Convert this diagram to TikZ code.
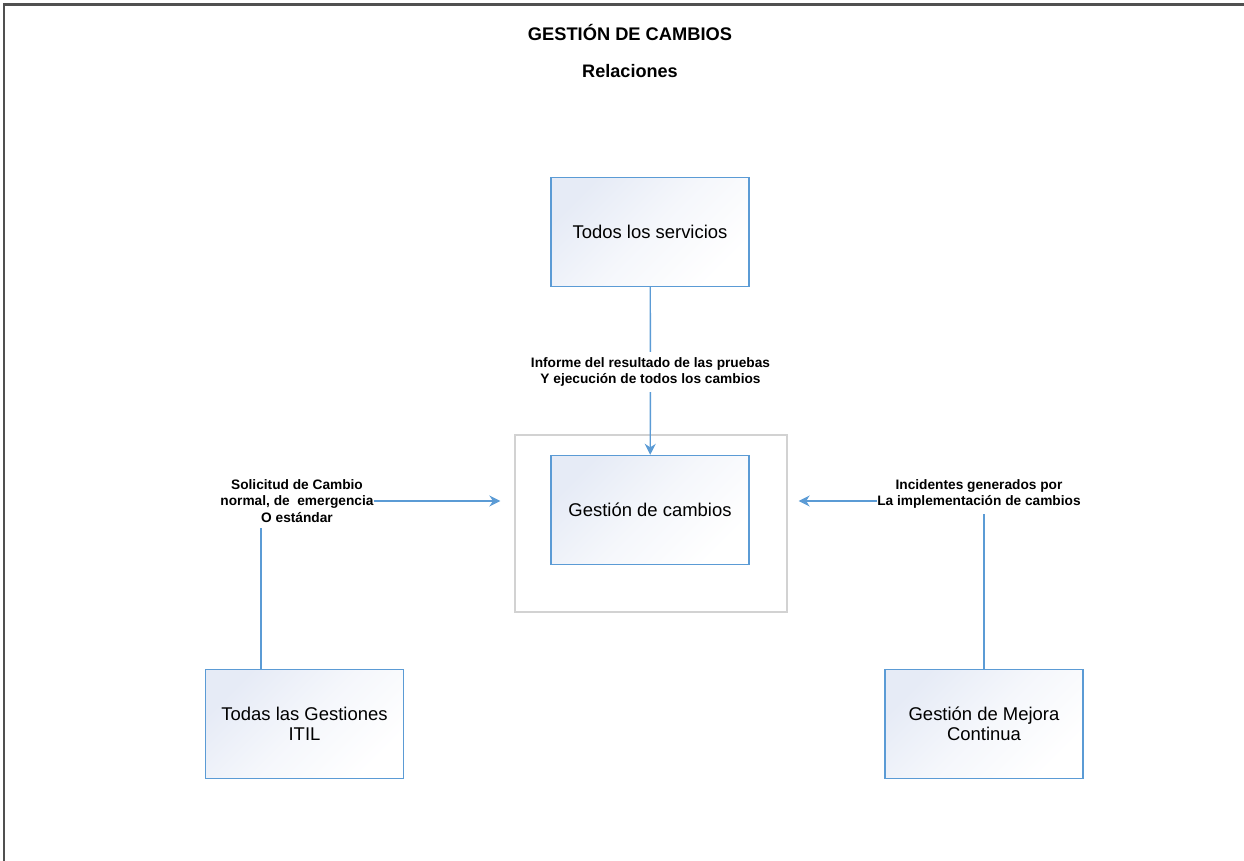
\documentclass[tikz,border=0pt]{standalone}
\usepackage{fontspec}
\setmainfont{Liberation Sans}
\usetikzlibrary{arrows.meta}
\definecolor{linkblue}{HTML}{5B9BD5}
\definecolor{boxtint}{HTML}{E6EBF6}
\definecolor{framegray}{HTML}{505050}
\tikzset{
  procbox/.style={draw=linkblue, line width=0.8pt, top color=boxtint, bottom color=white,
    middle color=boxtint!40, shading angle=45, minimum width=3.96cm, minimum height=2.18cm,
    align=center, font=\fontsize{10.5}{11.2}\selectfont},
  relnote/.style={align=center, inner xsep=0pt, inner ysep=3pt,
    font=\fontsize{7.8}{9.2}\selectfont\bfseries},
  flow/.style={draw=linkblue, line width=0.8pt},
  flowtip/.style={flow, -{Stealth[length=2.2mm, width=2.2mm]}},
}

\begin{document}
\begin{tikzpicture}[x=0.02cm, y=-0.02cm]
    \useasboundingbox (0,0) rectangle (1244,861);
    % marco de la hoja
    \draw [framegray, line width=1.2pt] (4,861) -- (4,4.5) -- (1244,4.5);
    \node (titulo) at (630,32) [font=\fontsize{10.4}{12}\selectfont\bfseries] {GESTIÓN DE CAMBIOS};
    \node (subtitulo) at (630,71) [font=\fontsize{10.3}{12}\selectfont\bfseries] {Relaciones};
    % recuadro del proceso
    \node (marco) at (651,523.5) [draw=gray!35, line width=0.8pt, minimum width=5.44cm, minimum height=3.54cm] {};
    \node [procbox] (servicios) at (650,232) {Todos los servicios};
    \node [procbox] (cambios) at (650,510) {Gestión de cambios};
    \node [procbox] (gestiones) at (304.5,724) {Todas las Gestiones\\ITIL};
    \node [procbox] (mejora) at (984,724) {Gestión de Mejora\\Continua};
    % relaciones
    \node [relnote] (pruebas) at (650.5,372) {Informe del resultado de las pruebas\\Y ejecución de todos los cambios};
    \node [relnote] (solicitud) at (297,501) {Solicitud de Cambio\\normal, de\ \ emergencia\\O estándar};
    \node [relnote] (incidentes) at (979,494) {Incidentes generados por\\La implementación de cambios};
    \draw [flow] (servicios) -- (pruebas);
    \draw [flowtip] (pruebas) -- (cambios);
    \draw [flow] ([xshift=-0.87cm]gestiones.north) -- ([xshift=-0.87cm]gestiones.north |- solicitud.south);
    \draw [flowtip, shorten >=0.28cm] (solicitud.east) -- (solicitud.east -| marco.west);
    \draw [flow] (mejora.north) -- (mejora.north |- incidentes.south);
    \draw [flowtip, shorten >=0.22cm] ([yshift=-0.14cm]incidentes.west) -- ([yshift=-0.14cm]incidentes.west -| marco.east);
\end{tikzpicture}
\end{document}
